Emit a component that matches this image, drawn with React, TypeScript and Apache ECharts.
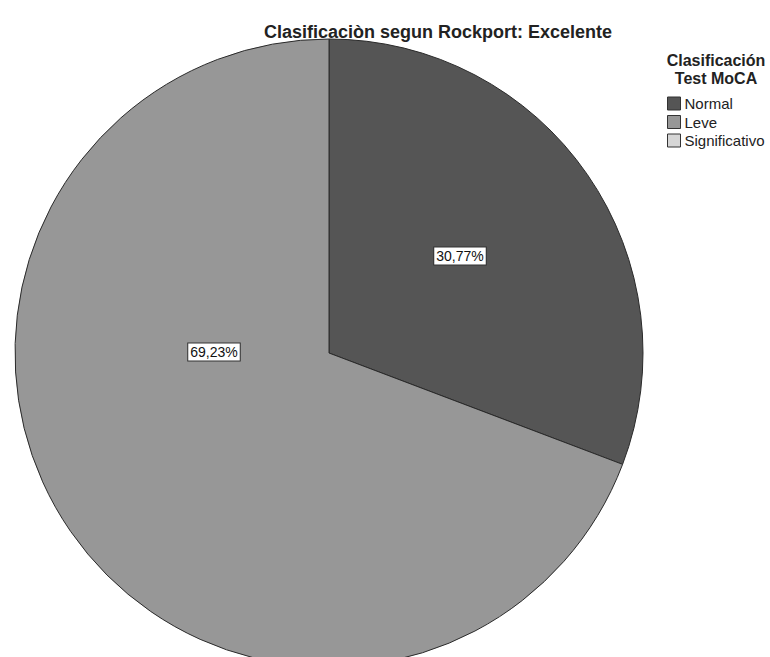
import React, { useEffect, useRef } from "react";
import * as echarts from "echarts";

// MoCA classification counts within the "Excelente" Rockport group
const categories = ["Normal", "Leve", "Significativo"];
const counts = [4, 9, 0];
const sliceColors = ["#555555", "#979797", "#d6d6d6"];

const chartTitle = "Clasificaciòn segun Rockport: Excelente";
const legendTitle = "Clasificación\nTest MoCA";

const FONT = "'Liberation Sans', Arial, sans-serif";

export default function App() {
  const ref = useRef<HTMLDivElement>(null);

  useEffect(() => {
    document.body.style.margin = "0";
    if (!ref.current) return;
    const chart = echarts.init(ref.current, undefined, { renderer: "svg" });

    const data = categories.map((name, i) => ({
      name,
      value: counts[i],
      itemStyle: { color: sliceColors[i], borderWidth: counts[i] > 0 ? 1 : 0 },
      label: { show: counts[i] > 0 },
    }));

    // where each slice's percentage box sits
    const labelSpots: Record<number, [number, number]> = {
      0: [460, 256],
      1: [214, 352],
    };

    chart.setOption({
      animation: false,
      backgroundColor: "#ffffff",
      title: [
        {
          text: chartTitle,
          left: 433,
          top: 18,
          textAlign: "center",
          textStyle: { fontFamily: FONT, fontSize: 18, fontWeight: "bold", color: "#222" },
        },
        {
          text: legendTitle,
          left: 711,
          top: 46,
          textAlign: "center",
          textStyle: {
            fontFamily: FONT,
            fontSize: 16,
            fontWeight: "bold",
            color: "#222",
            lineHeight: 18,
          },
        },
      ],
      legend: {
        orient: "vertical",
        left: 662,
        top: 91,
        itemWidth: 13,
        itemHeight: 13,
        itemGap: 3.5,
        icon: "rect",
        selectedMode: false,
        data: categories,
        itemStyle: { borderColor: "#333", borderWidth: 1 },
        textStyle: { fontFamily: FONT, fontSize: 15, color: "#222", padding: [0, 0, 0, -1] },
      },
      series: [
        {
          type: "pie",
          center: [329, 353],
          radius: 314,
          startAngle: 90,
          clockwise: true,
          percentPrecision: 2,
          avoidLabelOverlap: false,
          itemStyle: { borderColor: "#2a2a2a", borderWidth: 1 },
          label: {
            show: true,
            position: "inside",
            formatter: (p: any) => p.percent.toFixed(2).replace(".", ",") + "%",
            fontFamily: FONT,
            fontSize: 14,
            color: "#111",
            backgroundColor: "#ffffff",
            borderColor: "#333",
            borderWidth: 1,
            padding: [2, 2, 1, 2],
          },
          labelLayout: (p: any) => {
            const spot = labelSpots[p.dataIndex];
            return spot ? { x: spot[0], y: spot[1], align: "center", verticalAlign: "middle" } : {};
          },
          labelLine: { show: false },
          emphasis: { disabled: true },
          data,
        },
      ],
    });

    return () => chart.dispose();
  }, []);

  return <div ref={ref} style={{ width: 770, height: 657 }} />;
}
